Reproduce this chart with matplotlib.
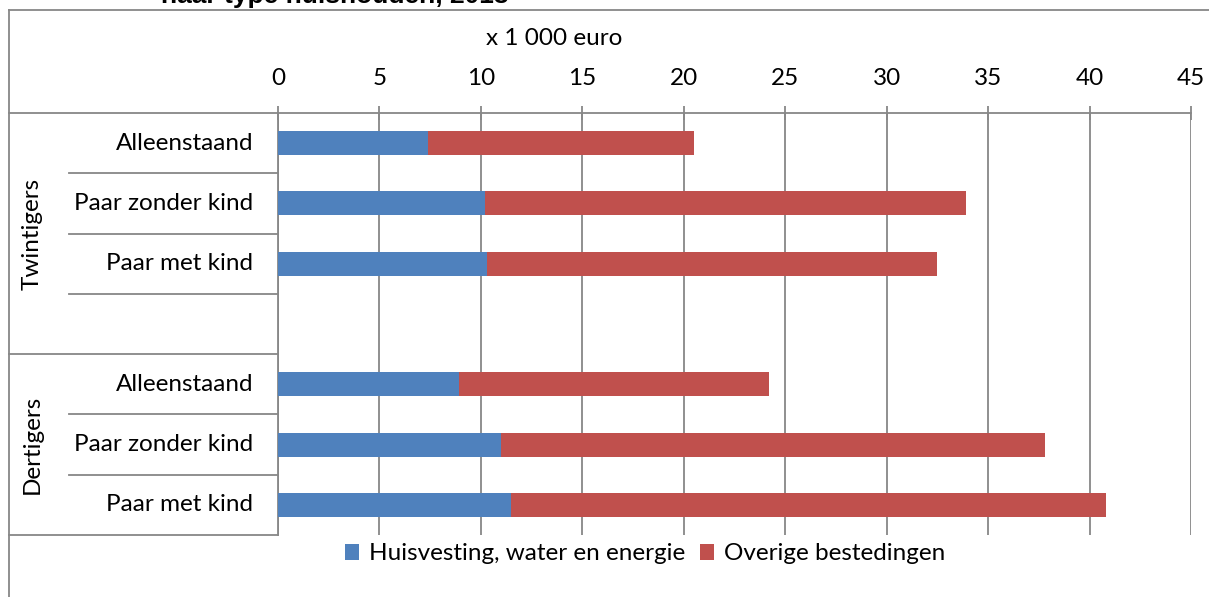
import matplotlib.pyplot as plt
from matplotlib.lines import Line2D
from matplotlib.patches import Patch
from matplotlib.transforms import blended_transform_factory

plt.rcParams["font.family"] = ["Lato", "DejaVu Sans"]

groups = ["Twintigers", "Dertigers"]
categories = [
    "Alleenstaand", "Paar zonder kind", "Paar met kind", "",
    "Alleenstaand", "Paar zonder kind", "Paar met kind",
]
huisvesting = [7.4, 10.2, 10.3, None, 8.9, 11.0, 11.5]
overige = [13.1, 23.7, 22.2, None, 15.3, 26.8, 29.3]
x_ticks = [0, 5, 10, 15, 20, 25, 30, 35, 40, 45]

BLUE = "#4F81BD"
RED = "#C0504D"
GREY = "#878787"
FS = 17.5

W, H = 1209, 597
fig = plt.figure(figsize=(W / 100, H / 100), dpi=100)
ax = fig.add_axes([278 / W, (H - 535) / H, (1191 - 278) / W, (535 - 113) / H])

pos = [i for i, v in enumerate(huisvesting) if v is not None]
hv = [huisvesting[i] for i in pos]
ov = [overige[i] for i in pos]
ax.barh(pos, hv, height=0.4, color=BLUE, zorder=3)
ax.barh(pos, ov, left=hv, height=0.4, color=RED, zorder=3)

ax.set_xlim(0, 45)
ax.set_ylim(len(categories) - 0.5, -0.5)
ax.set_xticks(x_ticks)
ax.xaxis.tick_top()
ax.xaxis.set_label_position("top")
ax.tick_params(axis="x", length=10, direction="inout", color=GREY, width=1.3,
               labelsize=FS, pad=12)
ax.set_xlabel("x 1 000 euro", fontsize=FS, labelpad=17, x=0.303)
ax.set_yticks([])
ax.grid(axis="x", color=GREY, linewidth=1.3, zorder=0)
for side in ["right", "bottom"]:
    ax.spines[side].set_visible(False)
for side in ["top", "left"]:
    ax.spines[side].set_color(GREY)
    ax.spines[side].set_linewidth(1.3)

# category axis, drawn to the left of the plot
tr = blended_transform_factory(fig.transFigure, ax.transData)
for i, cat in enumerate(categories):
    if cat:
        ax.text(253 / W, i, cat, transform=tr, ha="right", va="center", fontsize=FS)
for b in [0.5, 1.5, 2.5, 4.5, 5.5]:
    ax.add_line(Line2D([69 / W, 278 / W], [b, b], transform=tr, color=GREY,
                       linewidth=1.3, clip_on=False))
for b in [-0.5, 3.5, 6.5]:
    ax.add_line(Line2D([9 / W, 278 / W], [b, b], transform=tr, color=GREY,
                       linewidth=1.3, clip_on=False))
ax.text(32 / W, 1.5, groups[0], transform=tr, rotation=90, ha="center",
        va="center", fontsize=FS)
ax.text(32 / W, 5.0, groups[1], transform=tr, rotation=90, ha="center",
        va="center", fontsize=FS)

# outer chart frame
fig.add_artist(Line2D([9 / W, 1], [1 - 10 / H, 1 - 10 / H], color=GREY, linewidth=1.3))
fig.add_artist(Line2D([9 / W, 9 / W], [0, 1 - 10 / H], color=GREY, linewidth=1.3))

# title, cut off at the top edge as in the source image
fig.text(335 / W, 1 - 3 / H, "naar type huishouden, 2013", ha="center",
         va="baseline", fontsize=19, fontweight="bold", family="Liberation Sans")

handles = [Patch(facecolor=BLUE, label="Huisvesting, water en energie"),
           Patch(facecolor=RED, label="Overige bestedingen")]
fig.legend(handles=handles, loc="center", bbox_to_anchor=(645 / W, 1 - 554 / H),
           ncol=2, frameon=False, fontsize=FS, handlelength=0.6, handleheight=0.6,
           handletextpad=0.4, columnspacing=0.6)

fig.savefig("out.png", dpi=100)
